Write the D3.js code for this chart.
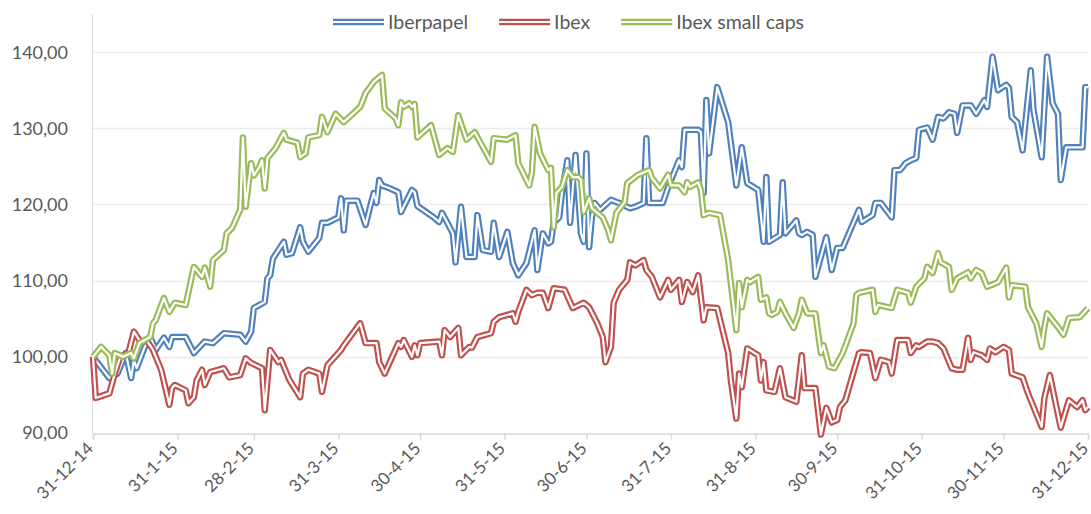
<!DOCTYPE html>
<html><head><meta charset="utf-8">
<script src="https://cdn.jsdelivr.net/npm/d3@7"></script>
<style>
body{margin:0;background:#fff}
svg{display:block}
text{font-family:Lato,"Open Sans",sans-serif;fill:#595959}
</style>
</head><body><svg id="c" width="1091" height="514"></svg>
<script>
const seriesNames = ["Iberpapel","Ibex","Ibex small caps"];
const seriesColors = ["#4F81BD","#C0504D","#9BBB59"];
const yTicks = [90,100,110,120,130,140];
const tickDays = [0,31,59,90,120,151,181,212,243,273,304,334,365];
const tickLabels = ["31-12-14","31-1-15","28-2-15","31-3-15","30-4-15","31-5-15","30-6-15","31-7-15","31-8-15","30-9-15","31-10-15","30-11-15","31-12-15"];

// days since 31-12-2014
const iberpapelDays = [0,6,9,12,14,15,16,19,21,23,26,28,29,34,37,41,44,48,54,56,58,59,63,64,65,66,68,70,71,73,76,77,79,83,84,86,90,91,92,93,97,100,102,103,104,105,106,109,112,113,117,118,119,121,125,127,128,130,132,133,135,137,140,141,143,146,147,149,152,154,156,159,162,163,165,167,168,169,171,172,174,175,177,179,180,181,182,183,184,186,190,193,197,199,202,203,204,209,211,215,216,217,222,223,224,225,226,229,233,236,238,240,244,246,247,248,252,253,254,258,259,260,262,264,265,269,271,273,275,281,282,286,287,289,293,294,296,297,298,300,302,303,306,308,310,312,314,316,317,319,322,324,327,328,330,332,335,336,337,339,341,344,345,348,350,352,354,355,357,363,364,365];
const iberpapelValues = [100,97.2,97.8,100.5,97.2,99.6,98.5,101.3,102.6,100.9,102.5,101.3,102.6,102.6,100.5,102,101.8,103.1,102.9,102,103.3,106.4,107.2,110.3,110.7,112.9,114,115.1,113.4,113.6,117,115.1,113.8,115.6,117.6,117.6,118.3,120.8,116.6,120.5,120.5,117.3,120.2,121.5,120.2,123.2,122.5,122.1,121.6,119,121.9,121.6,119.8,119.3,118.3,117.7,118.9,117.6,116.2,112.4,119.7,113.1,113.1,118.6,114,113.8,117.6,113.1,116.4,112.3,110.7,112.3,116.6,111.4,116.2,114.9,115.1,117.6,118.3,121.5,125.8,117.6,126.5,116.2,115.1,126.7,114.4,118.3,120.2,119.3,120.6,120.2,119.5,119.7,120.2,128.7,120.2,120.2,122.3,125.8,124.9,129.8,129.8,129.5,121.5,133.7,126.7,135.4,130.8,122.5,127.5,122.8,121.9,115.1,123.6,115.1,116,122.9,116.2,117.9,116.2,116,116.4,116,110.5,115.7,111.4,114.3,114.3,119.3,117.7,118.6,120.2,120.2,118.3,124.5,124.5,124.9,125.4,125.8,126.1,129.8,130.1,128.5,131.5,131.3,132.1,131.9,129.4,133,133,131.9,133.7,132.8,139.4,135,135.7,135.3,131.5,130.8,127.1,137.6,132.4,126.2,139.4,133.3,131.9,123.2,127.5,127.5,135.4,135.4];

const ibexDays = [0,1,6,8,10,13,15,17,20,22,25,28,29,30,34,35,37,38,40,41,43,48,50,54,56,58,62,63,65,68,69,72,76,77,79,83,84,86,91,92,98,100,104,105,107,112,113,114,117,118,119,120,127,128,129,131,134,135,138,139,141,146,147,149,154,155,156,159,161,163,165,167,169,173,176,180,182,185,187,188,190,191,193,196,197,199,202,203,205,208,211,212,215,216,218,220,222,224,225,229,233,234,236,237,238,240,244,245,246,247,250,252,254,258,260,261,265,267,269,271,273,274,276,281,282,285,287,289,292,293,295,299,300,302,303,306,308,310,312,315,317,319,321,322,323,326,328,329,331,334,336,337,341,343,348,349,351,355,358,361,363,364,365];
const ibexValues = [100,94.6,95.2,97.8,100,100.5,103.3,102.2,102,100.9,98.3,93.7,95.9,96.3,95.6,93.9,94.7,96.9,98.3,96.3,98,98.5,97.3,97.6,99.8,99.2,98.5,93,100.9,99.3,99.6,97,94.7,97.8,98.3,97.8,95.4,98.9,100.9,101.5,104.4,101.8,101.8,99.3,97.8,101.8,101.3,102.2,100,101.5,100.2,101.8,102,100.2,103.5,102.6,103.8,100.2,101.3,101.2,102.6,103.1,104.6,105.2,105.7,104.6,105.9,108.8,108.1,108.4,108.4,106.4,109,108.8,106.4,107.1,106.5,104.4,102.6,99.3,101.3,107.1,108.8,110.1,112.4,112,112.7,111.4,110.5,107.8,110.1,108.8,110.1,107.2,109.8,108.5,110.7,104.8,106.5,106.4,100.5,96.9,91.9,97.8,96,101.1,100.2,96.9,99.3,95.6,95.4,98.5,94.7,94.1,100.2,95.9,95.9,89.8,93.3,91.4,91.7,93.4,94.3,100.5,100.6,100.5,97.2,99.6,99.3,97.8,102.2,102.2,100.5,101.5,101.3,102,102,101.8,101.1,98.5,98.3,98.3,102.5,99.6,100.6,100.2,99.6,101.1,100.6,101.3,100.9,97.8,97.3,95.2,90.8,94.6,97.6,90.7,94.3,93.4,94.3,93,93.4];

const smallCapsDays = [0,3,6,7,8,11,14,15,17,19,21,22,23,26,28,30,34,37,40,41,43,44,48,49,51,54,55,56,58,59,61,62,63,64,67,70,71,75,76,78,79,83,84,86,89,92,98,100,103,106,107,111,112,113,114,116,117,118,119,124,127,130,132,134,137,140,146,147,152,155,156,160,161,162,164,167,168,169,170,172,174,176,178,179,180,182,183,187,189,190,192,195,196,200,204,205,208,211,212,215,217,218,219,222,223,224,226,230,233,236,237,238,240,241,244,245,247,248,249,251,252,254,257,259,260,262,265,267,268,270,272,275,279,280,281,286,287,288,293,295,299,300,302,305,306,308,310,311,314,315,317,321,322,324,326,328,332,335,336,337,342,343,346,348,349,350,354,356,358,362,365];
const smallCapsValues = [100,101.3,100.2,97.8,100.5,100,100.5,99.8,101.8,102.2,102.6,104.4,104.8,107.7,105.9,107.1,106.8,111.8,110.5,111.7,109.2,112.7,114,116.2,116.9,119.3,128.8,119.7,125.4,123.8,124.9,125.8,122.1,126.1,127.4,129.4,128.5,128.1,126.2,126.7,128.8,129.1,131.5,129.5,131.9,130.8,132.8,134.6,136.1,137,132.6,131.3,130.4,133.4,132.8,133.3,132.8,133.2,128.8,130.4,126.5,127.4,126.9,131.7,128.5,129.5,125.6,128.7,128.5,129.1,125.4,122.5,124.2,130.2,126.7,124.5,124.8,117,121.5,122.3,124.5,123.6,123.6,123.2,119,120.8,119.5,118.3,116.6,115.3,118.9,120.3,122.8,123.9,124.5,123.5,122.1,123.9,122.5,122.5,121.6,122.9,122.3,122.9,121.9,118.6,118.9,118.6,112.7,103.5,109.7,106.5,110.1,109.8,110.5,107.5,107.8,105.7,105.5,105.9,107.2,105.7,103.8,105.7,107.5,105.7,105.7,100.5,101.5,98.7,98.5,100.5,104.4,108.1,108.4,108.8,105.9,106.8,106.4,108.8,108.4,107.1,109.2,110.3,111.8,111,113.6,112.4,111.8,108.8,110.3,111.1,110.3,111.4,111,109.2,109.8,111.7,107.8,109.4,109.2,106.5,104.4,101.3,103.9,105.7,103.9,102.9,105.1,105.2,106.4];

const toDate = d => new Date(2014, 11, 31 + d);
const series = [
  {name: seriesNames[0], color: seriesColors[0], days: iberpapelDays, values: iberpapelValues},
  {name: seriesNames[1], color: seriesColors[1], days: ibexDays, values: ibexValues},
  {name: seriesNames[2], color: seriesColors[2], days: smallCapsDays, values: smallCapsValues}
].map(s => ({...s, points: d3.zip(s.days, s.values).map(([d, v]) => ({date: toDate(d), value: v}))}));

const svg = d3.select("#c");
const mLeft = 93, mRight = 1088, mTop = 14, mBottom = 433;
const x = d3.scaleTime().domain([toDate(0), toDate(365)]).range([mLeft, mRight]);
const y = d3.scaleLinear().domain([90, 145]).range([mBottom, mTop]);
const fmt = v => d3.format(".2f")(v).replace(".", ",");

// gridlines
svg.append("g").selectAll("line").data(yTicks.filter(t => t > 90)).join("line")
  .attr("x1", mLeft).attr("x2", mRight)
  .attr("y1", d => Math.round(y(d)) + 0.5).attr("y2", d => Math.round(y(d)) + 0.5)
  .attr("stroke", "#ececec").attr("stroke-width", 1.5);

// y axis line
svg.append("line").attr("x1", mLeft - 0.5).attr("x2", mLeft - 0.5).attr("y1", mTop).attr("y2", mBottom)
  .attr("stroke", "#d9d9d9").attr("stroke-width", 1);

// y labels
svg.append("g").selectAll("text").data(yTicks).join("text")
  .attr("x", 68).attr("y", d => y(d)).attr("dy", "0.36em")
  .attr("text-anchor", "end").attr("font-size", 18).text(fmt);

// x axis
const xAxis = d3.axisBottom(x).tickValues(tickDays.map(toDate)).tickSize(6).tickFormat((d, i) => tickLabels[i]);
const gx = svg.append("g").attr("transform", `translate(0,${mBottom + 0.5})`).call(xAxis);
gx.select(".domain").attr("stroke", "#d9d9d9").attr("stroke-width", 1.5);
gx.selectAll(".tick line").attr("stroke", "#d9d9d9").attr("stroke-width", 1.5);
gx.selectAll(".tick text")
  .attr("font-size", 17).attr("font-family", "Lato").attr("fill", "#595959")
  .attr("text-anchor", "end").attr("x", 0).attr("y", 0).attr("dy", 0)
  .attr("transform", "translate(1,16) rotate(-45)");

// series (compound double lines)
const line = d3.line().x(d => x(d.date)).y(d => y(d.value));
series.forEach(s => {
  const g = svg.append("g");
  g.append("path").datum(s.points).attr("d", line).attr("fill", "none")
    .attr("stroke", s.color).attr("stroke-width", 6.5).attr("stroke-linejoin", "round");
  g.append("path").datum(s.points).attr("d", line).attr("fill", "none")
    .attr("stroke", "#fff").attr("stroke-width", 2.2).attr("stroke-linejoin", "round");
});

// legend
const lg = svg.append("g");
let lx = 333;
series.forEach(s => {
  const ly = 22;
  lg.append("line").attr("x1", lx).attr("x2", lx + 51).attr("y1", ly).attr("y2", ly)
    .attr("stroke", s.color).attr("stroke-width", 6.5);
  lg.append("line").attr("x1", lx).attr("x2", lx + 51).attr("y1", ly).attr("y2", ly)
    .attr("stroke", "#fff").attr("stroke-width", 2.2);
  const t = lg.append("text").attr("x", lx + 55).attr("y", ly).attr("dy", "0.35em")
    .attr("font-size", 19.5).text(s.name);
  lx += 55 + t.node().getComputedTextLength() + 31;
});
</script>
</body></html>
